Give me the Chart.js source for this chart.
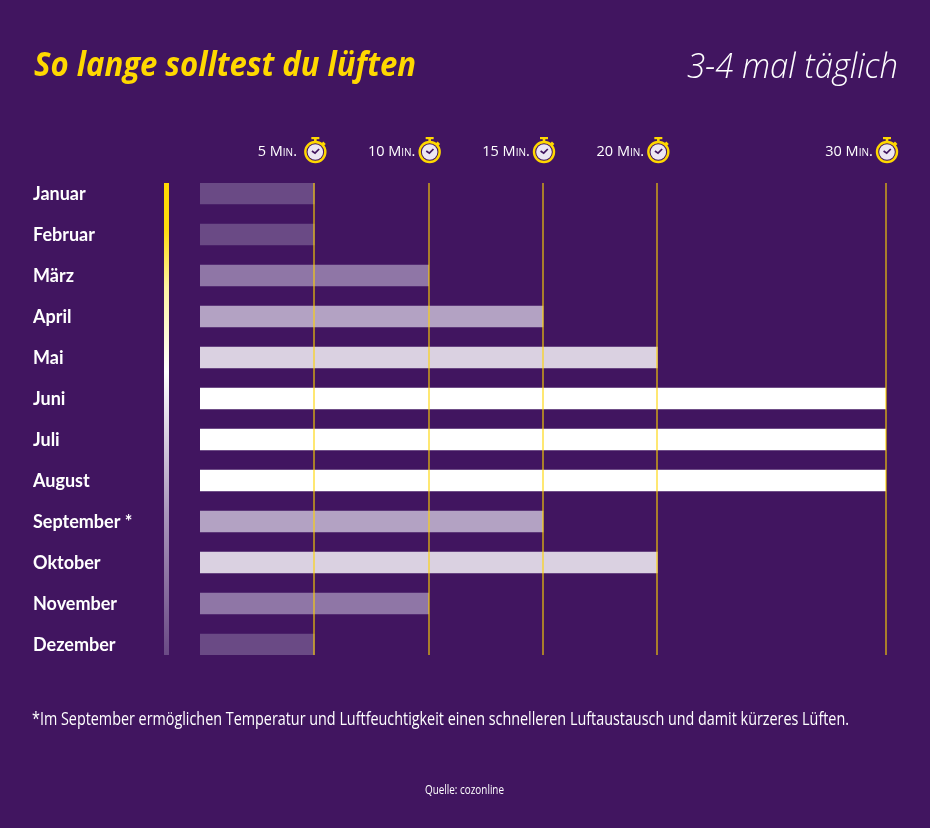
<!DOCTYPE html>
<html><head><meta charset="utf-8">
<style>
html,body{margin:0;padding:0;background:#411560;width:930px;height:828px;overflow:hidden}
#wrap{position:relative;width:930px;height:828px}
canvas{position:absolute;left:0;top:0}
.t{position:absolute;white-space:nowrap;transform-origin:left center;line-height:1}
</style>
<script src="https://cdn.jsdelivr.net/npm/chart.js@4"></script>
</head><body><div id="wrap">
<canvas id="c" width="930" height="828"></canvas>
<div class="t" data-w="382" style="left:34px;top:40px;font:italic 700 34px 'Open Sans';color:#ffd800">So lange solltest du lüften</div>
<div class="t" data-w="211" style="left:687px;top:41px;font:italic 300 35px 'Open Sans';color:#fff">3-4 mal täglich</div>
<div class="t" data-w="817" style="left:32px;top:706px;font:400 18px 'Open Sans';color:#fff">*Im September ermöglichen Temperatur und Luftfeuchtigkeit einen schnelleren Luftaustausch und damit kürzeres Lüften.</div>
<div class="t" data-w="79" style="left:425px;top:781px;font:400 12px 'Open Sans';color:#fff">Quelle: cozonline</div>
</div>
<script>
const months = ['Januar','Februar','März','April','Mai','Juni','Juli','August','September *','Oktober','November','Dezember'];
const minutes = [5,5,10,15,20,30,30,30,15,20,10,5];
const tickMinutes = [5,10,15,20,30];
const barColors = {5:'#6a4a85',10:'#8f76a6',15:'#b3a2c3',20:'#dad1e1',30:'#ffffff'};

document.querySelectorAll('.t').forEach(e=>{
  const w=e.getBoundingClientRect().width;
  e.style.transform='scaleX('+(+e.dataset.w/w)+')';
});

function stopwatch(ctx,x,y){
  ctx.save();
  ctx.translate(x,y);
  ctx.strokeStyle='#ffd800';ctx.fillStyle='#ffd800';
  ctx.fillRect(-4,-15,8,2.2);
  ctx.fillRect(-1.3,-13,2.6,3);
  ctx.save();ctx.rotate(Math.PI/4);ctx.fillRect(-1.7,-13,3.4,3.4);ctx.restore();
  ctx.lineWidth=2.4;
  ctx.beginPath();ctx.arc(0,0,10,0,Math.PI*2);ctx.stroke();
  ctx.fillStyle='#ece6f2';
  ctx.beginPath();ctx.arc(0,0,7.8,0,Math.PI*2);ctx.fill();
  ctx.strokeStyle='#41155f';ctx.lineWidth=1.7;
  ctx.beginPath();ctx.moveTo(-3.4,-1);ctx.lineTo(-0.3,1.2);ctx.lineTo(3.8,-3);ctx.stroke();
  ctx.restore();
}

const decor={
  id:'decor',
  afterDraw(chart){
    const {ctx,scales:{x}}=chart;
    tickMinutes.forEach(m=>stopwatch(ctx,x.getPixelForValue(m)+1,152));
    const top=chart.chartArea.top,bot=chart.chartArea.bottom;
    const g=ctx.createLinearGradient(0,top,0,bot);
    g.addColorStop(0,'#ffd800');g.addColorStop(0.1,'#ffdb10');
    g.addColorStop(0.22,'#fff3a0');g.addColorStop(0.4,'#ffffff');
    g.addColorStop(0.7,'#a996bb');g.addColorStop(1,'#6a4a85');
    ctx.fillStyle=g;
    ctx.fillRect(164,top,5,bot-top);
  }
};

const canvas=document.getElementById('c');
canvas.getContext('2d').letterSpacing='0.6px';

new Chart(canvas,{
  type:'bar',
  data:{
    labels:months,
    datasets:[{
      label:'Minuten',
      data:months.map((m,i)=>({x:minutes[i],y:i})),
      backgroundColor:minutes.map(v=>barColors[v]),
      barThickness:21,
      borderWidth:0
    }]
  },
  plugins:[decor],
  options:{
    indexAxis:'y',
    responsive:false,
    animation:false,
    devicePixelRatio:1,
    layout:{padding:{left:33,right:44,top:130,bottom:173}},
    plugins:{legend:{display:false},tooltip:{enabled:false},title:{display:false}},
    scales:{
      x:{
        type:'linear',position:'top',min:0,max:30,
        afterBuildTicks(s){s.ticks=tickMinutes.map(v=>({value:v}));},
        afterFit(s){s.height=53;s.paddingLeft=0;s.paddingRight=0;},
        grid:{color:'rgba(255,214,0,0.55)',lineWidth:2,z:1,drawTicks:false},
        border:{display:false},
        ticks:{
          autoSkip:false,maxRotation:0,minRotation:0,labelOffset:-37,padding:22,
          color:'#ffffff',
          font:{family:'"Open Sans"',size:14.5,weight:'small-caps 500'},
          callback:v=>v+' Min.'
        }
      },
      y:{
        type:'linear',reverse:true,offset:false,min:-0.256,max:11.256,
        afterBuildTicks(s){s.ticks=months.map((m,i)=>({value:i}));},
        afterFit(s){s.width=167;s.paddingTop=0;s.paddingBottom=0;},
        grid:{display:false},
        border:{display:false},
        ticks:{
          autoSkip:false,crossAlign:'far',color:'#ffffff',labelOffset:1,
          font:{family:'Lato',size:18,weight:'700'},
          callback:v=>months[v]
        }
      }
    }
  }
});
</script>
</body></html>
